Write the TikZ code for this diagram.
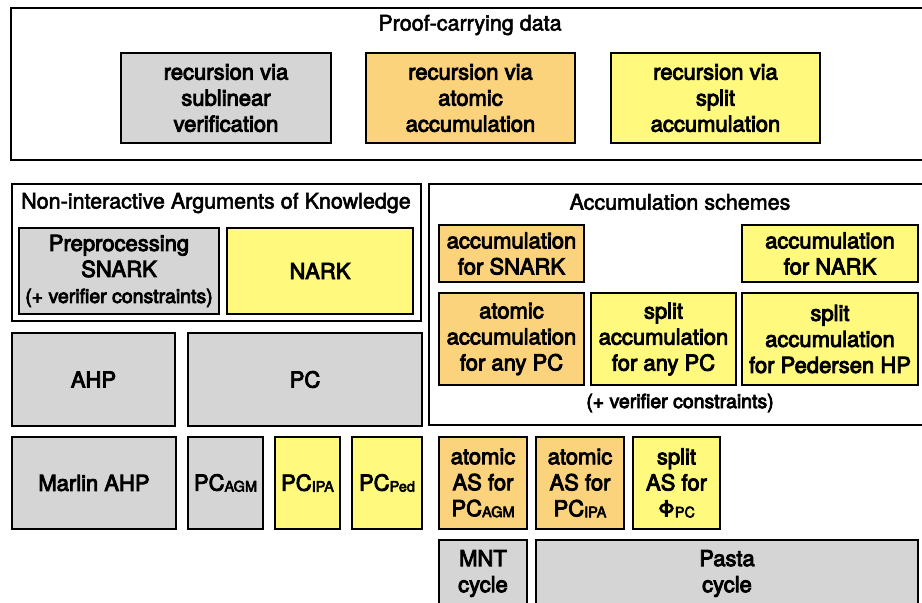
\documentclass[tikz,border=0pt]{standalone}
\usepackage{fontspec}
\setmainfont{TeX Gyre Heros}
\newfontfamily\medfont[FakeBold=4]{TeX Gyre Heros}
\newfontfamily\ttlfont[FakeBold=2.5]{TeX Gyre Heros}
\newcommand{\boxfont}{\medfont\fontsize{22}{26}\selectfont}
\newcommand{\titlefont}{\ttlfont\fontsize{21.5}{26}\selectfont}
\newcommand{\notefont}{\medfont\fontsize{19.5}{24}\selectfont}
\newcommand{\subsc}[1]{\raisebox{-1pt}{\fontsize{14.5}{15}\selectfont #1}}
\definecolor{gfill}{RGB}{213,213,213}
\definecolor{ofill}{RGB}{252,211,125}
\definecolor{yfill}{RGB}{255,250,125}
\tikzset{
  box/.style={draw=black, line width=2.5pt, align=center, inner sep=0pt, font=\boxfont},
  gbox/.style={box, fill=gfill},
  obox/.style={box, fill=ofill},
  ybox/.style={box, fill=yfill},
  frame/.style={draw=black, line width=2.4pt, fill=white, inner sep=0pt},
  ttl/.style={inner sep=0pt, font=\titlefont},
  note/.style={inner sep=0pt, font=\notefont}
}
\begin{document}
\begin{tikzpicture}[x=1pt, y=-1pt]
\useasboundingbox (0,0) rectangle (922,603);
\clip (0,0) rectangle (922,603);
\fill[white] (0,0) rectangle (922,603);
% Proof-carrying data
\node[frame, minimum width=929, minimum height=152] (pcd) at (475.5,84) {};
\node[ttl] (pcdtitle) at (470,25) {Proof-carrying data};
\node[gbox, minimum width=210, minimum height=90] (rsub) at (226,98) {recursion via\\sublinear\\verification};
\node[obox, minimum width=209, minimum height=90] (ratom) at (470.5,98) {recursion via\\atomic\\accumulation};
\node[ybox, minimum width=209, minimum height=90] (rsplit) at (715.5,98) {recursion via\\split\\accumulation};
% NARK group
\node[frame, minimum width=409, minimum height=137] (nak) at (216.5,252.5) {};
\node[ttl] (naktitle) at (216,203) {Non-interactive Arguments of Knowledge};
\node[gbox, minimum width=200, minimum height=86] (presnark) at (119,271) {Preprocessing\\SNARK\\{\notefont (+ verifier constraints)}};
\node[ybox, minimum width=186, minimum height=86] (nark) at (320,271) {NARK};
\node[gbox, minimum width=163, minimum height=93] (ahp) at (93.5,379.5) {AHP};
\node[gbox, minimum width=234, minimum height=93] (pc) at (305,379.5) {PC};
% Accumulation schemes
\node[frame, minimum width=511, minimum height=241] (acc) at (684.5,304.5) {};
\node[ttl] (acctitle) at (680,202) {Accumulation schemes};
\node[obox, minimum width=145, minimum height=57] (accsnark) at (511.5,253.5) {accumulation\\for SNARK};
\node[ybox, minimum width=176, minimum height=57] (accnark) at (830,253.5) {accumulation\\for NARK};
\node[obox, minimum width=145, minimum height=92] (atomany) at (511.5,339) {atomic\\accumulation\\for any PC};
\node[ybox, minimum width=145, minimum height=92] (splitany) at (663.5,339) {split\\accumulation\\for any PC};
\node[ybox, minimum width=176, minimum height=92] (splitped) at (830,339) {split\\accumulation\\for Pedersen HP};
\node[note] (accnote) at (680,403) {(+ verifier constraints)};
% bottom row
\node[gbox, minimum width=164, minimum height=92] (marlin) at (94,483) {Marlin AHP};
\node[gbox, minimum width=75, minimum height=92] (pcagm) at (225.5,483) {PC\subsc{AGM}};
\node[ybox, minimum width=65, minimum height=92] (pcipa) at (307.5,483) {PC\subsc{IPA}};
\node[ybox, minimum width=70, minimum height=92] (pcped) at (387,483) {PC\subsc{Ped}};
\node[obox, minimum width=88, minimum height=92] (asagm) at (483,483) {atomic\\AS for\\PC\subsc{AGM}};
\node[obox, minimum width=88, minimum height=92] (asipa) at (580,483) {atomic\\AS for\\PC\subsc{IPA}};
\node[ybox, minimum width=87, minimum height=92] (asphi) at (676.5,483) {split\\AS for\\Φ\subsc{PC}};
\node[gbox, minimum width=88, minimum height=67] (mnt) at (483,573.5) {MNT\\cycle};
\node[gbox, minimum width=382, minimum height=67] (pasta) at (727,573.5) {Pasta\\cycle};
\end{tikzpicture}
\end{document}
